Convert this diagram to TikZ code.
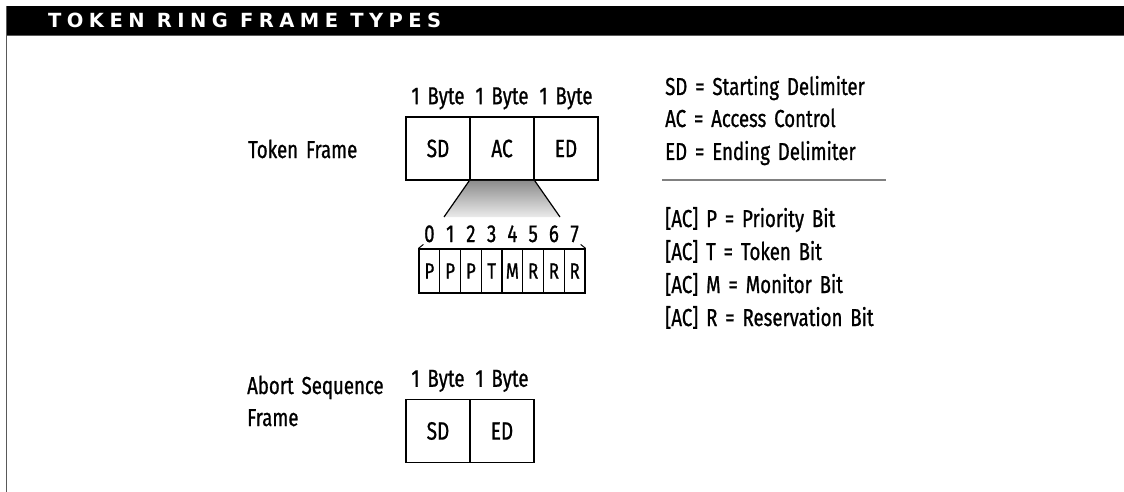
\documentclass[tikz,border=0pt]{standalone}
\usepackage{fontspec}
\setmainfont{Fira Sans}[FakeStretch=0.76, WordSpace=1.6, FakeBold=0.9]
\newfontfamily\titlefont{DejaVu Sans}[LetterSpace=28]
\tikzset{
  txt/.style={inner sep=0pt, font=\fontsize{24.5}{32}\selectfont},
  framebox/.style={draw, line width=1.5pt, minimum width=64pt, minimum height=63pt,
    inner sep=0pt, font=\fontsize{25}{26}\selectfont},
  bitbox/.style={draw, line width=1.2pt, minimum width=20.75pt, minimum height=44pt,
    inner sep=0pt, font=\fontsize{22}{22}\selectfont},
  bitnum/.style={inner sep=0pt, font=\fontsize{24.5}{26}\selectfont},
}
\begin{document}
\begin{tikzpicture}[x=1pt,y=-1pt]
  \useasboundingbox (0,0) rectangle (1124,492);
  % heading bar and frame edge
  \fill[black] (6,6) rectangle (1124,35);
  \draw[black!65, line width=1.5pt] (6,35.5) -- (1124,35.5);
  \draw[black!65, line width=1.8pt] (6.5,6) -- (6.5,492);
  \node[anchor=base west, inner sep=0pt, text=white, font=\titlefont\bfseries\fontsize{19.5}{22}\selectfont]
    (title) at (48,28) {TOKEN RING FRAME TYPES};

  % token frame
  \node[txt, anchor=base west] (tokname) at (248,158) {Token Frame};
  \node[framebox] (sd) at (438,148.5) {SD};
  \node[framebox] (ac) at (502,148.5) {AC};
  \node[framebox] (ed) at (566,148.5) {ED};
  \foreach \f in {sd,ac,ed}
    \node[txt, anchor=base] (byte\f) at ([yshift=12pt]\f.north) {1 Byte};

  % access control bits
  \coordinate (trapL) at (444,217);
  \coordinate (trapR) at (560,217);
  \shade[top color=black!45, bottom color=black!8] (ac.south west) -- (ac.south east) -- (trapR) -- (trapL) -- cycle;
  \draw[line width=1.2pt] (ac.south west) -- (trapL) (ac.south east) -- (trapR);
  \foreach \b [count=\i from 0] in {P,P,P,T,M,R,R,R} {
    \node[bitbox] (bit\i) at (429.4+20.75*\i,271) {\b};
    \node[bitnum, anchor=base] (num\i) at (429.4+20.75*\i,242) {\i};
  }
  \draw[line width=1pt] (bit0.north west) -- ++(5,-4);
  \draw[line width=1pt] (bit7.north east) -- ++(-5,-4);

  % legend
  \node[txt, anchor=base west] (lsd) at (665,95) {SD = Starting Delimiter};
  \node[txt, anchor=base west] (lac) at (665,127) {AC = Access Control};
  \node[txt, anchor=base west] (led) at (665,160) {ED = Ending Delimiter};
  \draw[black!50, line width=1.5pt] (662,180) -- (886,180);
  \node[txt, anchor=base west] (lp) at (665,227) {[AC] P = Priority Bit};
  \node[txt, anchor=base west] (lt) at (665,260) {[AC] T = Token Bit};
  \node[txt, anchor=base west] (lm) at (665,293) {[AC] M = Monitor Bit};
  \node[txt, anchor=base west] (lr) at (665,326) {[AC] R = Reservation Bit};

  % abort sequence frame
  \node[txt, anchor=base west, align=left] (abname) at (247,426) {Abort Sequence\\Frame};
  \node[framebox] (asd) at (438,431) {SD};
  \node[framebox] (aed) at (502,431) {ED};
  \foreach \f in {asd,aed}
    \node[txt, anchor=base] (byte\f) at ([yshift=12pt]\f.north) {1 Byte};
\end{tikzpicture}
\end{document}
